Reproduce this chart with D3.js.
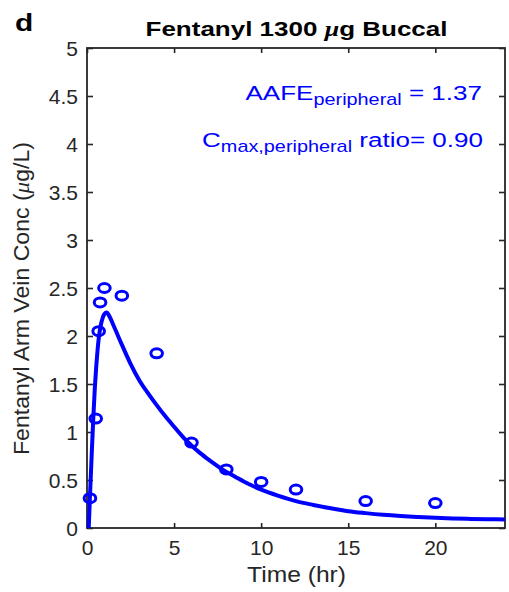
<!DOCTYPE html>
<html>
<head>
<meta charset="utf-8">
<script src="https://cdn.jsdelivr.net/npm/d3@7"></script>
<style>
  body { margin: 0; background: #fff; }
  text { font-family: "Liberation Sans", Arial, sans-serif; }
</style>
</head>
<body>
<div id="chart"></div>
<script>
// observed arm vein concentrations (circles)
var obsTime = [0.17, 0.5, 0.67, 0.75, 1, 2, 4, 6, 8, 10, 12, 16, 20];
var obsConc = [0.31, 1.14, 2.05, 2.35, 2.50, 2.42, 1.82, 0.89, 0.61, 0.48, 0.40, 0.28, 0.26];

// simulated peripheral curve
var simTime = [0.1, 0.17, 0.25, 0.36, 0.45, 0.53, 0.6, 0.69, 0.8, 0.9, 1.0, 1.13, 1.3, 1.5, 2.0, 2.5, 3.0, 3.5, 4.0, 4.5, 5.0, 5.5, 6.0, 6.5, 7.0, 7.5, 8.0, 8.5, 9.0, 9.5, 10, 11, 12, 13, 14, 15, 16, 17, 18, 19, 20, 21, 22, 23, 24];
var simConc = [0, 0.33, 0.68, 1.14, 1.46, 1.68, 1.84, 2.0, 2.12, 2.19, 2.23, 2.245, 2.2, 2.12, 1.91, 1.71, 1.54, 1.405, 1.28, 1.163, 1.055, 0.95, 0.86, 0.78, 0.71, 0.645, 0.585, 0.535, 0.485, 0.44, 0.40, 0.335, 0.28, 0.24, 0.205, 0.175, 0.155, 0.138, 0.125, 0.115, 0.107, 0.10, 0.095, 0.092, 0.089];

var xTicks = [0, 5, 10, 15, 20];
var xTickLabels = ["0", "5", "10", "15", "20"];
var yTicks = [0, 0.5, 1, 1.5, 2, 2.5, 3, 3.5, 4, 4.5, 5];
var yTickLabels = ["0", "0.5", "1", "1.5", "2", "2.5", "3", "3.5", "4", "4.5", "5"];

var W = 509, H = 592;
var ink = "#262626", blue = "#0000ff";

var svg = d3.select("#chart").append("svg")
  .attr("width", W).attr("height", H);
svg.append("rect").attr("width", W).attr("height", H).attr("fill", "#fff");

var x = d3.scaleLinear().domain([0, 24]).range([87, 505]);
var y = d3.scaleLinear().domain([0, 5]).range([528, 48]);

// axes, MATLAB style ticks pointing inward on all four sides
var gx = svg.append("g").attr("transform", "translate(0," + y(0) + ")")
  .call(d3.axisBottom(x).tickValues(xTicks).tickSizeInner(-5).tickSizeOuter(0)
    .tickFormat(function (d, i) { return xTickLabels[i]; }));
gx.selectAll("text").attr("y", 27).attr("dy", 0);

var gy = svg.append("g").attr("transform", "translate(" + x(0) + ",0)")
  .call(d3.axisLeft(y).tickValues(yTicks).tickSizeInner(-6).tickSizeOuter(0)
    .tickFormat(function (d, i) { return yTickLabels[i]; }));
gy.selectAll("text").attr("x", -9).attr("dy", "0.36em");

svg.append("g").attr("transform", "translate(0," + y(5) + ")")
  .call(d3.axisTop(x).tickValues(xTicks).tickSizeInner(-5).tickSizeOuter(0).tickFormat(""));
svg.append("g").attr("transform", "translate(" + x(24) + ",0)")
  .call(d3.axisRight(y).tickValues(yTicks).tickSizeInner(-6).tickSizeOuter(0).tickFormat(""));

svg.selectAll(".domain").remove();
svg.selectAll(".tick line").attr("stroke", ink).attr("stroke-width", 1.6);
svg.selectAll(".tick text")
  .attr("fill", ink).style("font-size", "21px")
  .style("font-family", "'Liberation Sans', Arial, sans-serif");

svg.append("rect")
  .attr("x", x(0)).attr("y", y(5))
  .attr("width", x(24) - x(0)).attr("height", y(0) - y(5))
  .attr("fill", "none").attr("stroke", ink).attr("stroke-width", 1.8);

// simulated curve
var simData = simTime.map(function (t, i) { return [t, simConc[i]]; });
var line = d3.line()
  .x(function (d) { return x(d[0]); })
  .y(function (d) { return y(d[1]); })
  .curve(d3.curveMonotoneX);
svg.append("path").datum(simData)
  .attr("d", line)
  .attr("fill", "none").attr("stroke", blue)
  .attr("stroke-width", 4).attr("stroke-linejoin", "round");

// observed points
svg.selectAll(".obs").data(obsTime).enter().append("ellipse")
  .attr("class", "obs")
  .attr("cx", function (d) { return x(d); })
  .attr("cy", function (d, i) { return y(obsConc[i]); })
  .attr("rx", 5.8).attr("ry", 4.5)
  .attr("fill", "none").attr("stroke", blue).attr("stroke-width", 3);

// title and panel letter
var title = svg.append("text")
  .attr("transform", "translate(296.5,36) scale(1.3,1)")
  .attr("text-anchor", "middle")
  .style("font-size", "20px").style("font-weight", "bold").attr("fill", "#000");
title.append("tspan").text("Fentanyl 1300 ");
title.append("tspan").text("\u03bc")
  .style("font-family", "'Liberation Serif', serif").style("font-style", "italic");
title.append("tspan").text("g Buccal");

svg.append("text")
  .attr("transform", "translate(15,31) scale(1.3,1)")
  .style("font-size", "23px").style("font-weight", "bold").attr("fill", "#000")
  .text("d");

// axis labels
svg.append("text")
  .attr("transform", "translate(296.5,582) scale(1.12,1)")
  .attr("text-anchor", "middle").attr("fill", ink)
  .style("font-size", "22px").text("Time (hr)");

var ylab = svg.append("text")
  .attr("transform", "translate(28.5,298.5) rotate(-90)")
  .attr("text-anchor", "middle").attr("fill", ink)
  .attr("textLength", 313).attr("lengthAdjust", "spacingAndGlyphs")
  .style("font-size", "22px");
ylab.append("tspan").text("Fentanyl Arm Vein Conc (");
ylab.append("tspan").text("\u03bc")
  .style("font-family", "'Liberation Serif', serif").style("font-style", "italic");
ylab.append("tspan").text("g/L)");

// annotations
var a1 = svg.append("text")
  .attr("transform", "translate(482,100) scale(1.24,1)")
  .attr("text-anchor", "end").attr("fill", blue).style("font-size", "21px");
a1.append("tspan").text("AAFE");
a1.append("tspan").attr("dy", 5).style("font-size", "16px").text("peripheral");
a1.append("tspan").attr("dy", -5).text(" = 1.37");

var a2 = svg.append("text")
  .attr("transform", "translate(483,147) scale(1.24,1)")
  .attr("text-anchor", "end").attr("fill", blue).style("font-size", "21px");
a2.append("tspan").text("C");
a2.append("tspan").attr("dy", 5).style("font-size", "16px").text("max,peripheral");
a2.append("tspan").attr("dy", -5).text(" ratio= 0.90");
</script>
</body>
</html>
